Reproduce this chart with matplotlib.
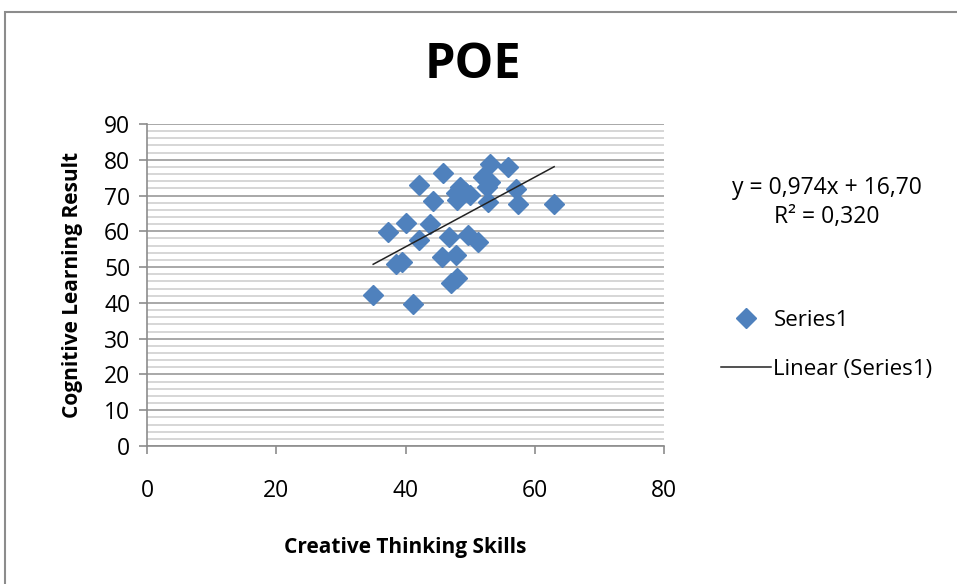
import matplotlib
matplotlib.use('Agg')
import matplotlib.pyplot as plt
from matplotlib.patches import Rectangle
from matplotlib.ticker import MultipleLocator
import numpy as np

plt.rcParams['font.family'] = ['Open Sans', 'DejaVu Sans']

# creative thinking skills (x) vs cognitive learning result (y)
creative = [35.0, 41.1, 37.3, 40.1, 38.6, 39.4, 42.1, 43.8, 42.1, 45.8, 44.2,
            46.8, 45.6, 47.8, 47.1, 47.9, 49.6, 51.2, 48.4, 47.8, 49.2, 50.0,
            47.9, 53.0, 55.8, 52.0, 53.1, 52.6, 52.8, 57.1, 57.4, 63.0]
cognitive = [42.2, 39.6, 59.7, 62.2, 50.9, 51.5, 57.6, 62.0, 72.9, 76.2, 68.6,
             58.3, 52.9, 53.4, 45.5, 46.9, 59.0, 57.1, 72.5, 70.6, 71.1, 70.2,
             68.8, 78.8, 77.9, 75.3, 73.9, 72.5, 68.3, 71.8, 67.6, 67.6]
slope, intercept, r2 = 0.974, 16.70, 0.320

blue = '#4F81BD'

fig = plt.figure(figsize=(9.57, 5.84), dpi=100)
W, H = 957, 584

# outer chart frame
fig.patches.append(Rectangle((5 / W, -0.1), 1.2, 1 - 12 / H + 0.1, transform=fig.transFigure,
                             fill=False, edgecolor='#8c8c8c', linewidth=1.5))

ax = fig.add_axes([147 / W, 1 - 446 / H, 517 / W, 322 / H])
ax.plot(creative, cognitive, linestyle='none', marker='D', markersize=10.5,
        color=blue, label='Series1', zorder=3)

xs = np.array([min(creative), max(creative)])
ax.plot(xs, slope * xs + intercept, color='#222222', linewidth=1.1,
        label='Linear (Series1)', zorder=4)

ax.set_xlim(0, 80)
ax.set_ylim(0, 90)
ax.xaxis.set_major_locator(MultipleLocator(20))
ax.yaxis.set_major_locator(MultipleLocator(10))
ax.yaxis.set_minor_locator(MultipleLocator(2))
ax.grid(True, which='major', axis='y', color='#9a9a9a', linewidth=1.2)
ax.grid(True, which='minor', axis='y', color='#cfcfcf', linewidth=1.2)
ax.set_axisbelow(True)
for s in ['top', 'right']:
    ax.spines[s].set_visible(False)
for s in ['left', 'bottom']:
    ax.spines[s].set_color('#8c8c8c')
    ax.spines[s].set_linewidth(1.2)
ax.tick_params(axis='both', which='major', labelsize=16.5, length=6, width=1.2,
               color='#8c8c8c', pad=6)
ax.tick_params(axis='y', which='minor', length=0)
ax.tick_params(axis='x', pad=18)

ax.set_xlabel('Creative Thinking Skills', fontsize=15, fontweight='bold', labelpad=24)
ax.set_ylabel('Cognitive Learning Result', fontsize=15, fontweight='bold', labelpad=15)

fig.text(473 / W, 1 - 65 / H, 'POE', fontsize=35, fontweight='bold',
         ha='center', va='center')

eq = 'y = {:.3f}x + {:.2f}'.format(slope, intercept).replace('.', ',')
fig.text(827 / W, 1 - 188 / H, eq, fontsize=16.5, ha='center', va='center')
fig.text(827 / W, 1 - 217 / H, 'R² = {:.3f}'.format(r2).replace('.', ','),
         fontsize=16.5, ha='center', va='center')

ax.legend(loc='upper left', bbox_to_anchor=(710 / W, 1 - 299 / H),
          bbox_transform=fig.transFigure, frameon=False, fontsize=16,
          handlelength=2.25, handletextpad=0.1, labelspacing=1.25, borderpad=0)

fig.savefig('out.png', dpi=100)
